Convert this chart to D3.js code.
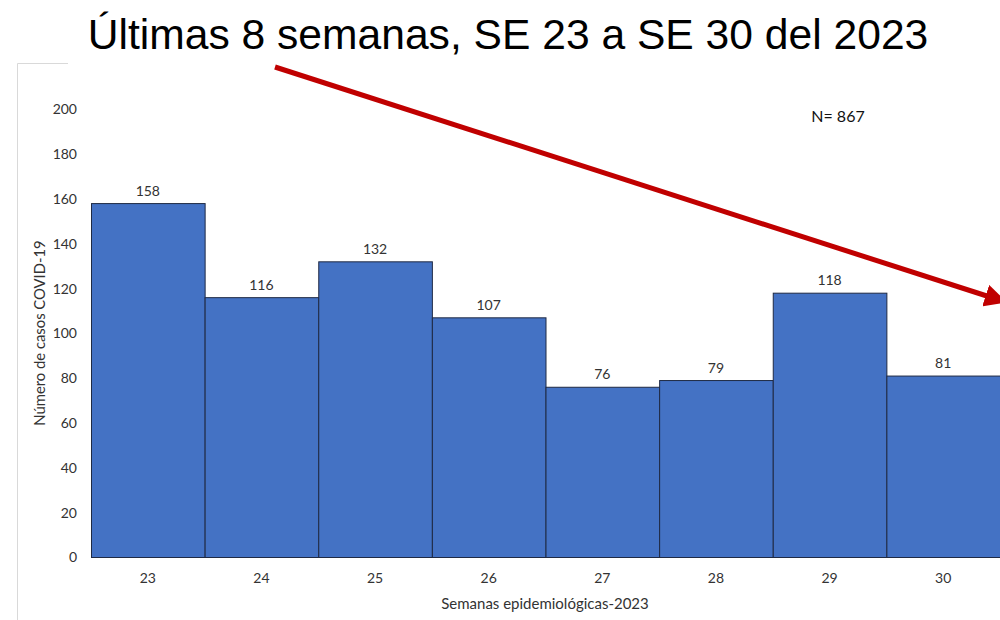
<!DOCTYPE html>
<html><head><meta charset="utf-8">
<script src="https://cdn.jsdelivr.net/npm/d3@7"></script>
<style>body{margin:0;background:#fff;}svg{display:block;}</style>
</head><body>
<svg id="c" width="1000" height="620"></svg>
<script>
const weeks = ["23","24","25","26","27","28","29","30"];
const cases = [158,116,132,107,76,79,118,81];
const yTicks = [0,20,40,60,80,100,120,140,160,180,200];
const title = "Últimas 8 semanas, SE 23 a SE 30 del 2023";
const yTitle = "Número de casos COVID-19";
const xTitle = "Semanas epidemiológicas-2023";
const totalLabel = "N= 867";

const svg = d3.select("#c");
const font = "Lato, 'Open Sans', sans-serif";

// partial frame
svg.append("path").attr("d","M17.5,620 V63.5 H68").attr("fill","none").attr("stroke","#d9d9d9").attr("stroke-width",1);

svg.append("text").attr("x",508).attr("y",49).attr("text-anchor","middle")
  .attr("font-family","'Liberation Sans', Arial, sans-serif").attr("font-size",42.6).attr("fill","#000").text(title);

const x = d3.scaleBand().domain(weeks).range([91,1000]).padding(0);
const y = d3.scaleLinear().domain([0,200]).range([557.5,109.5]);

const g = svg.append("g");
g.selectAll("rect").data(cases).join("rect")
  .attr("x",(d,i)=>x(weeks[i])+0.5).attr("y",d=>y(d))
  .attr("width",x.bandwidth()).attr("height",d=>y(0)-y(d))
  .attr("fill","#4472C4").attr("stroke","#1f2a44").attr("stroke-width",1);

g.selectAll("text.v").data(cases).join("text").attr("class","v")
  .attr("x",(d,i)=>x(weeks[i])+x.bandwidth()/2).attr("y",d=>y(d)-8)
  .attr("text-anchor","middle").attr("font-family",font).attr("font-size",14).attr("fill","#333").text(d=>d);

const ya = d3.axisLeft(y).tickValues(yTicks).tickSize(0).tickPadding(0);
const yg = svg.append("g").attr("transform","translate(77,0)").call(ya);
yg.select(".domain").remove();
yg.selectAll("text").attr("font-family",font).attr("font-size",14).attr("fill","#333");

const xa = d3.axisBottom(x).tickSize(0).tickPadding(0);
const xg = svg.append("g").attr("transform","translate(0,573)").call(xa);
xg.select(".domain").remove();
xg.selectAll("text").attr("font-family",font).attr("font-size",14).attr("fill","#333");

svg.append("text").attr("transform","translate(45,333) rotate(-90)").attr("text-anchor","middle")
  .attr("font-family",font).attr("font-size",14.8).attr("fill","#333").text(yTitle);
svg.append("text").attr("x",545).attr("y",609).attr("text-anchor","middle")
  .attr("font-family",font).attr("font-size",15).attr("fill","#333").text(xTitle);
svg.append("text").attr("x",838).attr("y",122).attr("text-anchor","middle")
  .attr("font-family",font).attr("font-size",16).attr("fill","#111").text(totalLabel);

// arrow
const defs = svg.append("defs");
defs.append("marker").attr("id","ah").attr("viewBox","0 0 10 10").attr("refX",2).attr("refY",5)
  .attr("markerWidth",4.5).attr("markerHeight",4.5).attr("orient","auto")
  .append("path").attr("d","M0,0 L10,5 L0,10 z").attr("fill","#C00000");
svg.append("line").attr("x1",275).attr("y1",67).attr("x2",990).attr("y2",297)
  .attr("stroke","#C00000").attr("stroke-width",5).attr("marker-end","url(#ah)");
</script>
</body></html>
